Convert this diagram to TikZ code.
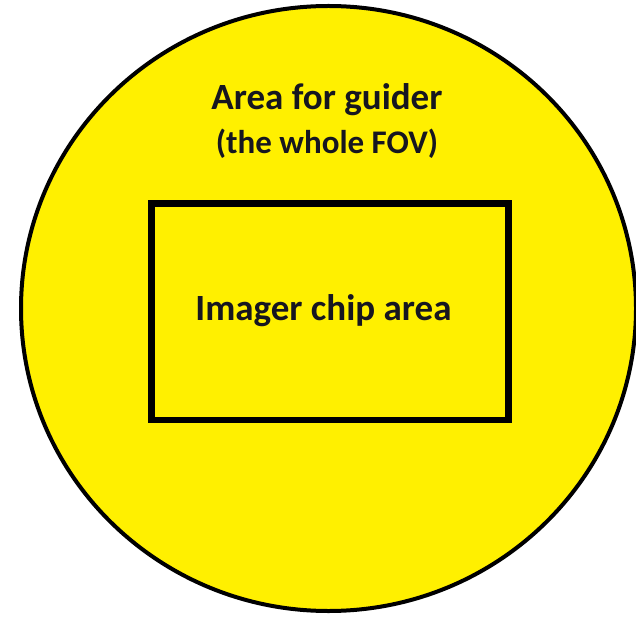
\documentclass[tikz,border=0pt]{standalone}
\usepackage{fontspec}
\setmainfont{Carlito}
\definecolor{fovyellow}{RGB}{255,240,0}
\definecolor{inkdark}{RGB}{22,22,32}

\begin{document}
\begin{tikzpicture}[x=1pt,y=-1pt,
  lbl/.style={font=\fontsize{37}{44}\selectfont\bfseries,text=inkdark,anchor=base,inner sep=0pt}]
  \useasboundingbox (0,0) rectangle (636,617);
  \coordinate (O) at (328.5,308.5);
  \filldraw[fill=fovyellow,draw=black,line width=4pt] (O) ellipse [x radius=307.5,y radius=302.5];
  \coordinate (C1) at (151.5,203.5); \coordinate (C2) at (508.5,420);
  \draw[line width=6.5pt] (C1) rectangle (C2);
  \node[lbl] (guider) at (327,110) {Area for guider};
  \node[lbl,font=\fontsize{33}{40}\selectfont\bfseries] (fov) at (327,154) {(the whole FOV)};
  \node[lbl] (chip) at (323.5,320) {Imager chip area};
\end{tikzpicture}
\end{document}
